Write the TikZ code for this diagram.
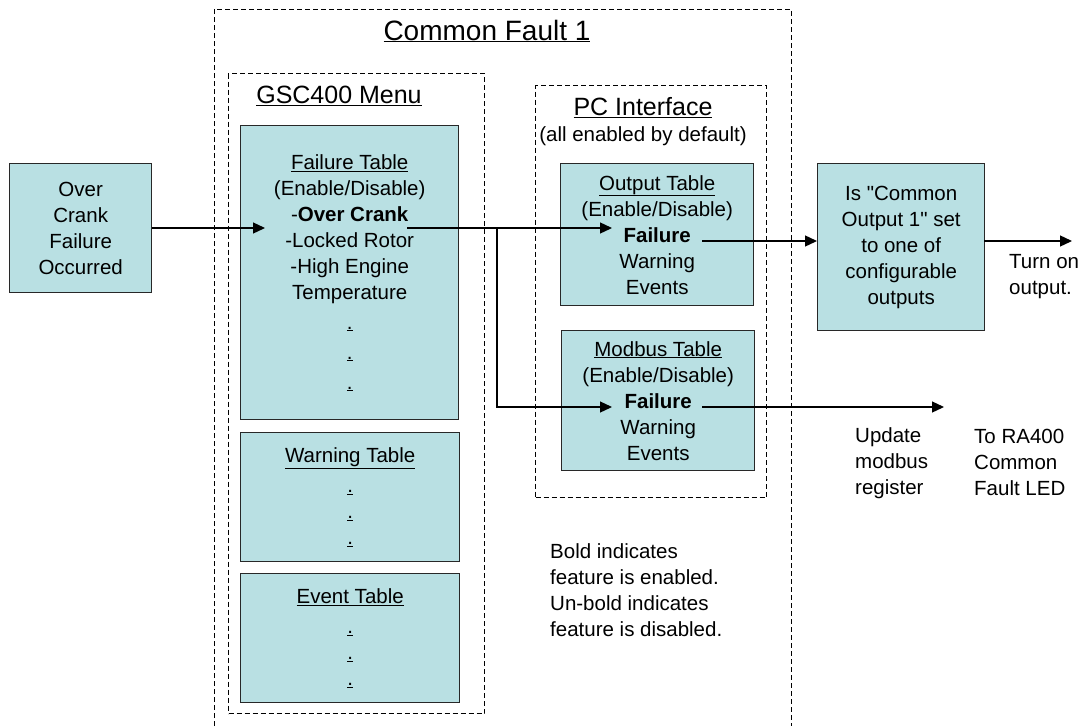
\documentclass[tikz,border=0pt]{standalone}
\usepackage{fontspec}
\setmainfont{Liberation Sans}[Ligatures=TeXOff]
\usetikzlibrary{arrows.meta}
\definecolor{boxfill}{RGB}{185,224,227}
\definecolor{edge}{RGB}{40,40,40}
\begin{document}
\begin{tikzpicture}[x=1pt,y=-1pt,
  tbl/.style={draw=edge, fill=boxfill, line width=1.4pt, inner sep=0pt, anchor=north west,
    font=\fontsize{20.5}{26}\selectfont, align=center},
  grp/.style={draw=black, dash pattern=on 5pt off 3pt, line width=1pt, inner sep=0pt, anchor=north west},
  txt/.style={font=\fontsize{20.5}{26}\selectfont, align=center, inner sep=0pt},
  ltxt/.style={font=\fontsize{20.5}{26}\selectfont, align=left, inner sep=0pt, anchor=north west},
  arr/.style={line width=1.3pt, -{Triangle[length=12pt,width=11pt]}},
  ln/.style={line width=1.3pt}]
\useasboundingbox (0,0) rectangle (1082,726);
\fill[white] (0,0) rectangle (1082,726);

% group frames
\draw[grp] (214,726) -- (214,9) -- (791,9) -- (791,726);
\node[txt, font=\fontsize{28}{32}\selectfont] (cftitle) at (487,31) {\underline{Common Fault 1}};

\node[grp, minimum width=256pt, minimum height=640pt] (gsc) at (228,73) {};
\node[txt, font=\fontsize{25}{30}\selectfont] (gsctitle) at (339,96) {\underline{GSC400 Menu}};

\node[grp, minimum width=231pt, minimum height=412pt] (pci) at (535,85) {};
\node[txt, font=\fontsize{25}{30}\selectfont] (pcititle) at (643,108) {\underline{PC Interface}};
\node[txt] (pcisub) at (643,136) {(all enabled by default)};

% boxes
\node[tbl, minimum width=142pt, minimum height=129pt] (ocbox) at (9,163)
  {Over\\Crank\\Failure\\Occurred};
\node[tbl, minimum width=218pt, minimum height=294pt] (fail) at (240,125)
  {\underline{Failure Table}\\(Enable/Disable)\\-\textbf{Over Crank}\\-Locked Rotor\\-High Engine\\Temperature\\[4pt]\underline{.}\\[4pt]\underline{.}\\[4pt]\underline{.}};
\node[tbl, minimum width=219pt, minimum height=129pt] (warn) at (240,432)
  {\underline{Warning Table}\\[4pt]\underline{.}\\\underline{.}\\\underline{.}};
\node[tbl, minimum width=219pt, minimum height=129pt] (event) at (240,573)
  {\underline{Event Table}\\[4pt]\underline{.}\\\underline{.}\\\underline{.}};
\node[tbl, minimum width=193pt, minimum height=142pt] (outt) at (560,163)
  {\underline{Output Table}\\(Enable/Disable)\\\textbf{Failure}\\Warning\\Events};
\node[tbl, minimum width=193pt, minimum height=140pt] (modt) at (561,330)
  {\underline{Modbus Table}\\(Enable/Disable)\\\textbf{Failure}\\Warning\\Events};
\node[tbl, minimum width=167pt, minimum height=167pt] (isbox) at (817,163)
  {Is "Common\\Output 1" set\\to one of\\configurable\\outputs};

% free texts
\node[ltxt] (turnon) at (1009,254) {Turn on\\output.};
\node[ltxt] (update) at (855,427) {Update\\modbus\\register};
\node[ltxt] (ra400) at (974,429) {To RA400\\Common\\Fault LED};
\node[ltxt] (legend) at (550,543) {Bold indicates\\feature is enabled.\\Un-bold indicates\\feature is disabled.};

% connector points
\coordinate (failin) at (265,228);
\coordinate (ocout) at (407,228);
\coordinate (branch) at (497,228);
\coordinate (branchlow) at (497,407);
\coordinate (outin) at (612,228);
\coordinate (outout) at (702,241);
\coordinate (isin) at (817,241);
\coordinate (isout) at (984,241);
\coordinate (turnend) at (1072,241);
\coordinate (modin) at (612,407);
\coordinate (modout) at (702,407);
\coordinate (modend) at (944,407);

% connectors
\draw[arr] (ocbox.east |- failin) -- (failin);
\draw[arr] (ocout) -- (outin);
\draw[arr] (branch) -- (branchlow) -- (modin);
\draw[arr] (outout) -- (isin);
\draw[arr] (isout) -- (turnend);
\draw[arr] (modout) -- (modend);
\end{tikzpicture}
\end{document}
